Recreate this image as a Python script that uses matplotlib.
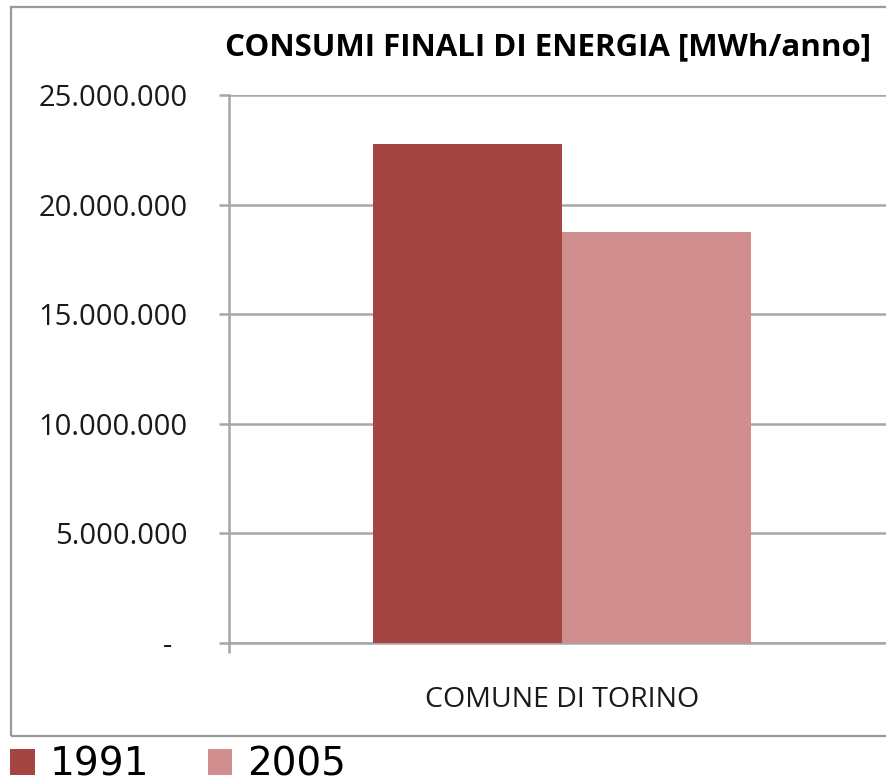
import numpy as np
import matplotlib.pyplot as plt
from matplotlib.ticker import FuncFormatter
from matplotlib.patches import Rectangle

plt.rcParams['font.family'] = ['Open Sans', 'DejaVu Sans']

# Data
category = 'COMUNE DI TORINO'
years = ['1991', '2005']
values = [22760000, 18750000]
colors = ['#A54542', '#D08F8E']
yticks = [0, 5000000, 10000000, 15000000, 20000000, 25000000]

W, H = 886, 784
fig = plt.figure(figsize=(W / 100, H / 100), dpi=100)

# outer chart frame (cropped on the right like the original)
fig.add_artist(Rectangle((11 / W, 1 - 736 / H), 1.0, (736 - 7) / H,
                         transform=fig.transFigure, fill=False,
                         edgecolor='#9A9A9A', linewidth=1.6))

# plot area extends past the right border of the image
ax = fig.add_axes([229 / W, 1 - 643 / H, (895 - 229) / W, (643 - 95) / H])

grey = '#A6A6A6'
width = 0.2838
offsets = [-width / 2, width / 2]
for off, val, col, lab in zip(offsets, values, colors, years):
    ax.bar(off, val, width, color=col, label=lab, zorder=3)

ax.set_xlim(-0.5, 0.5)
ax.set_ylim(0, 25000000)
ax.set_yticks(yticks)
ax.yaxis.set_major_formatter(FuncFormatter(
    lambda v, p: '-  ' if v == 0 else f'{int(v):,}'.replace(',', '.')))
ax.grid(True, axis='y', color=grey, linewidth=1.8, zorder=0)
ax.set_axisbelow(True)

for s in ['top', 'right']:
    ax.spines[s].set_visible(False)
for s in ['left', 'bottom']:
    ax.spines[s].set_color(grey)
    ax.spines[s].set_linewidth(1.8)

ax.tick_params(axis='y', length=7, width=1.8, color=grey, labelsize=21,
               labelcolor='#1a1a1a', pad=23)
ax.set_xticks([0])
ax.set_xticklabels([category])
ax.set_xticks([-0.5, 0.5], minor=True)
ax.tick_params(axis='x', which='major', length=0, labelsize=20.5, pad=31,
               labelcolor='#1a1a1a')
ax.tick_params(axis='x', which='minor', length=7, width=1.8, color=grey)

fig.text(548 / W, 1 - 47 / H, 'CONSUMI FINALI DI ENERGIA [MWh/anno]',
         ha='center', va='center', fontsize=22.5, fontweight='bold')

handles, labels = ax.get_legend_handles_labels()
fig.legend(handles, labels, loc='lower left', bbox_to_anchor=(10 / W, 0.0),
           ncol=2, frameon=False, handlelength=0.64,
           handleheight=0.64, handletextpad=0.39, columnspacing=1.49,
           borderpad=0, borderaxespad=0,
           prop={'family': 'DejaVu Sans', 'size': 28})

fig.savefig('out.png', dpi=100)
